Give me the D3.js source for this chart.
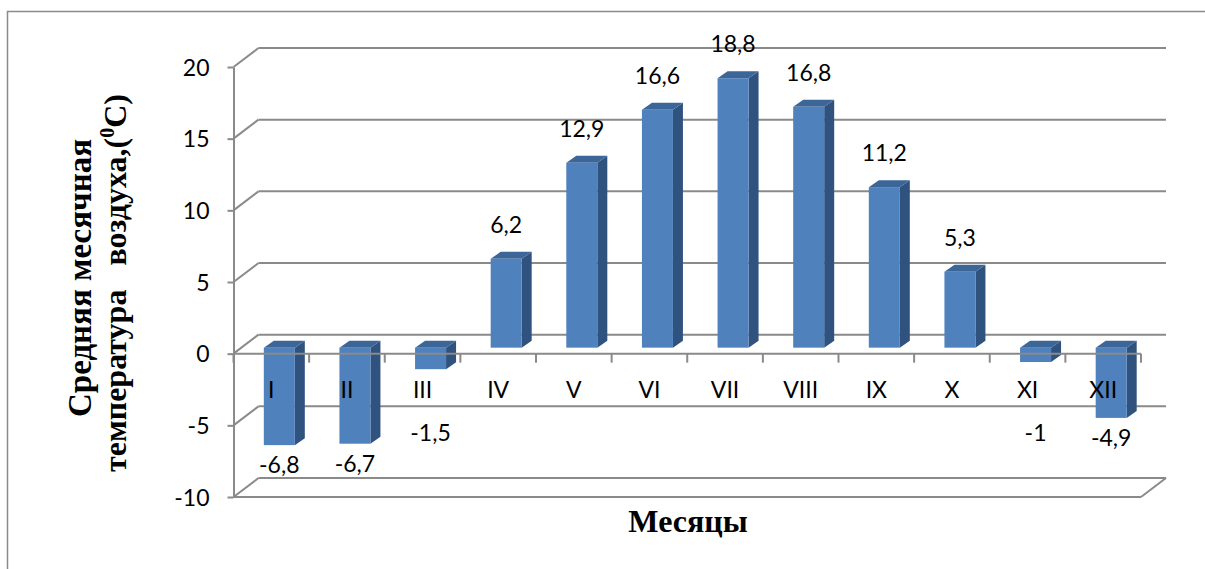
<!DOCTYPE html>
<html>
<head>
<meta charset="utf-8">
<script src="https://cdn.jsdelivr.net/npm/d3@7"></script>
<style>
  html, body { margin: 0; padding: 0; background: #fff; }
  svg { display: block; }
  .title { font-family: "Liberation Serif", "Times New Roman", serif; font-weight: bold; fill: #000; white-space: pre; }
  .lbl { font-family: Lato, "Open Sans", sans-serif; font-size: 23px; fill: #000; }
</style>
</head>
<body>
<svg id="chart" width="1205" height="569"></svg>
<script>
// Monthly mean air temperature
const months = ["I", "II", "III", "IV", "V", "VI", "VII", "VIII", "IX", "X", "XI", "XII"];
const temps = [-6.8, -6.7, -1.5, 6.2, 12.9, 16.6, 18.8, 16.8, 11.2, 5.3, -1, -4.9];
const yTicks = [-10, -5, 0, 5, 10, 15, 20];

const svg = d3.select("#chart");
const W = 1205, H = 569;

// Front plane of the pseudo-3D plot box
const plotLeft = 233.5, plotRight = 1141;
const plotTop = 67, plotBottom = 497;

// Depth vector of the box (front plane -> back wall)
const depth = { x: 25, y: -19 };
// Bar front face offset and bar thickness along depth
const barFront = { x: 8, y: -6 };
const barDepth = { x: 10, y: -7 };

const x = d3.scaleBand().domain(months).range([plotLeft, plotRight]);
const y = d3.scaleLinear().domain([-10, 20]).range([plotBottom, plotTop]);

const gridColor = "#8a8a8a";
const fmt = v => String(v).replace(".", ",");

// Outer frame
svg.append("rect")
  .attr("x", 7.5).attr("y", 11.5)
  .attr("width", W + 20).attr("height", H + 20)
  .attr("fill", "none").attr("stroke", gridColor).attr("stroke-width", 1.5);

// Back wall gridlines and left side-wall diagonals
const grid = svg.append("g").attr("stroke", gridColor).attr("stroke-width", 2).attr("fill", "none");
yTicks.forEach(t => {
  const yy = y(t);
  grid.append("line")
    .attr("x1", plotLeft + depth.x).attr("y1", yy + depth.y)
    .attr("x2", plotRight + depth.x).attr("y2", yy + depth.y);
  grid.append("line")
    .attr("x1", plotLeft).attr("y1", yy)
    .attr("x2", plotLeft + depth.x).attr("y2", yy + depth.y);
});
// Floor: front edge and right diagonal
grid.append("line")
  .attr("x1", plotLeft).attr("y1", y(-10)).attr("x2", plotRight).attr("y2", y(-10));
grid.append("line")
  .attr("x1", plotRight).attr("y1", y(-10))
  .attr("x2", plotRight + depth.x).attr("y2", y(-10) + depth.y);

// Bars
const bw = x.bandwidth();
const barW = bw * 0.41;
const bars = svg.append("g");
months.forEach((m, i) => {
  const v = temps[i];
  const x0 = x(m) + (bw - barW) / 2 + barFront.x;
  const x1 = x0 + barW;
  const yT = y(Math.max(v, 0)) + barFront.y;
  const yB = y(Math.min(v, 0)) + barFront.y;
  const g = bars.append("g");
  // side face
  g.append("polygon")
    .attr("points", [[x1, yT], [x1 + barDepth.x, yT + barDepth.y], [x1 + barDepth.x, yB + barDepth.y], [x1, yB]].join(" "))
    .attr("fill", "#30527f");
  // top face
  g.append("polygon")
    .attr("points", [[x0, yT], [x0 + barDepth.x, yT + barDepth.y], [x1 + barDepth.x, yT + barDepth.y], [x1, yT]].join(" "))
    .attr("fill", "#3d6698");
  // front face
  g.append("rect")
    .attr("x", x0).attr("y", yT)
    .attr("width", barW).attr("height", yB - yT)
    .attr("fill", "#4f81bd");
});

// Category axis along the zero line, with ticks at category boundaries
const xAxisG = svg.append("g").attr("transform", `translate(0,${y(0)})`);
xAxisG.append("line")
  .attr("x1", plotLeft).attr("x2", plotRight).attr("y1", 0).attr("y2", 0)
  .attr("stroke", gridColor).attr("stroke-width", 2);
const bounds = months.map(m => x(m)).concat([plotRight]);
xAxisG.selectAll("line.tick").data(bounds).join("line")
  .attr("class", "tick")
  .attr("x1", d => d).attr("x2", d => d)
  .attr("y1", 0).attr("y2", 9)
  .attr("stroke", gridColor).attr("stroke-width", 2);

// Category labels
svg.append("g").selectAll("text").data(months).join("text")
  .attr("class", "lbl")
  .attr("text-anchor", "middle")
  .attr("x", d => x(d) + bw / 2)
  .attr("y", y(0) + 44)
  .text(d => d);

// Value axis
const yAxis = d3.axisLeft(y)
  .tickValues(yTicks)
  .tickFormat(d => String(d))
  .tickSize(6)
  .tickSizeOuter(0)
  .tickPadding(18);
const yAxisG = svg.append("g").attr("transform", `translate(${plotLeft},0)`).call(yAxis);
yAxisG.attr("font-size", null).attr("font-family", null);
yAxisG.select(".domain").attr("stroke", gridColor).attr("stroke-width", 2);
yAxisG.selectAll(".tick line").attr("stroke", gridColor).attr("stroke-width", 2);
yAxisG.selectAll(".tick text")
  .attr("class", "lbl")
  .attr("dy", "0.36em");

// Value labels
svg.append("g").selectAll("text").data(temps).join("text")
  .attr("class", "lbl")
  .attr("text-anchor", "middle")
  .attr("x", (d, i) => x(months[i]) + bw / 2 + barFront.x)
  .attr("y", d => d >= 0
    ? y(d) + barFront.y - 26
    : Math.max(y(d) + barFront.y + 28, y(0) + 87))
  .text(d => fmt(d));

// Axis titles
svg.append("text")
  .attr("class", "title")
  .attr("font-size", 32)
  .attr("text-anchor", "middle")
  .attr("x", 688).attr("y", 532)
  .text("Месяцы");

svg.append("text")
  .attr("class", "title")
  .attr("font-size", 33)
  .attr("transform", "translate(91,417) rotate(-90)")
  .text("Средняя месячная");

const t2 = svg.append("text")
  .attr("class", "title")
  .attr("font-size", 32)
  .attr("transform", "translate(126,472) rotate(-90)");
t2.append("tspan").text("температура   воздуха,(");
t2.append("tspan").attr("font-size", 20).attr("dy", -12).text("0");
t2.append("tspan").attr("dy", 12).text("С)");
</script>
</body>
</html>
